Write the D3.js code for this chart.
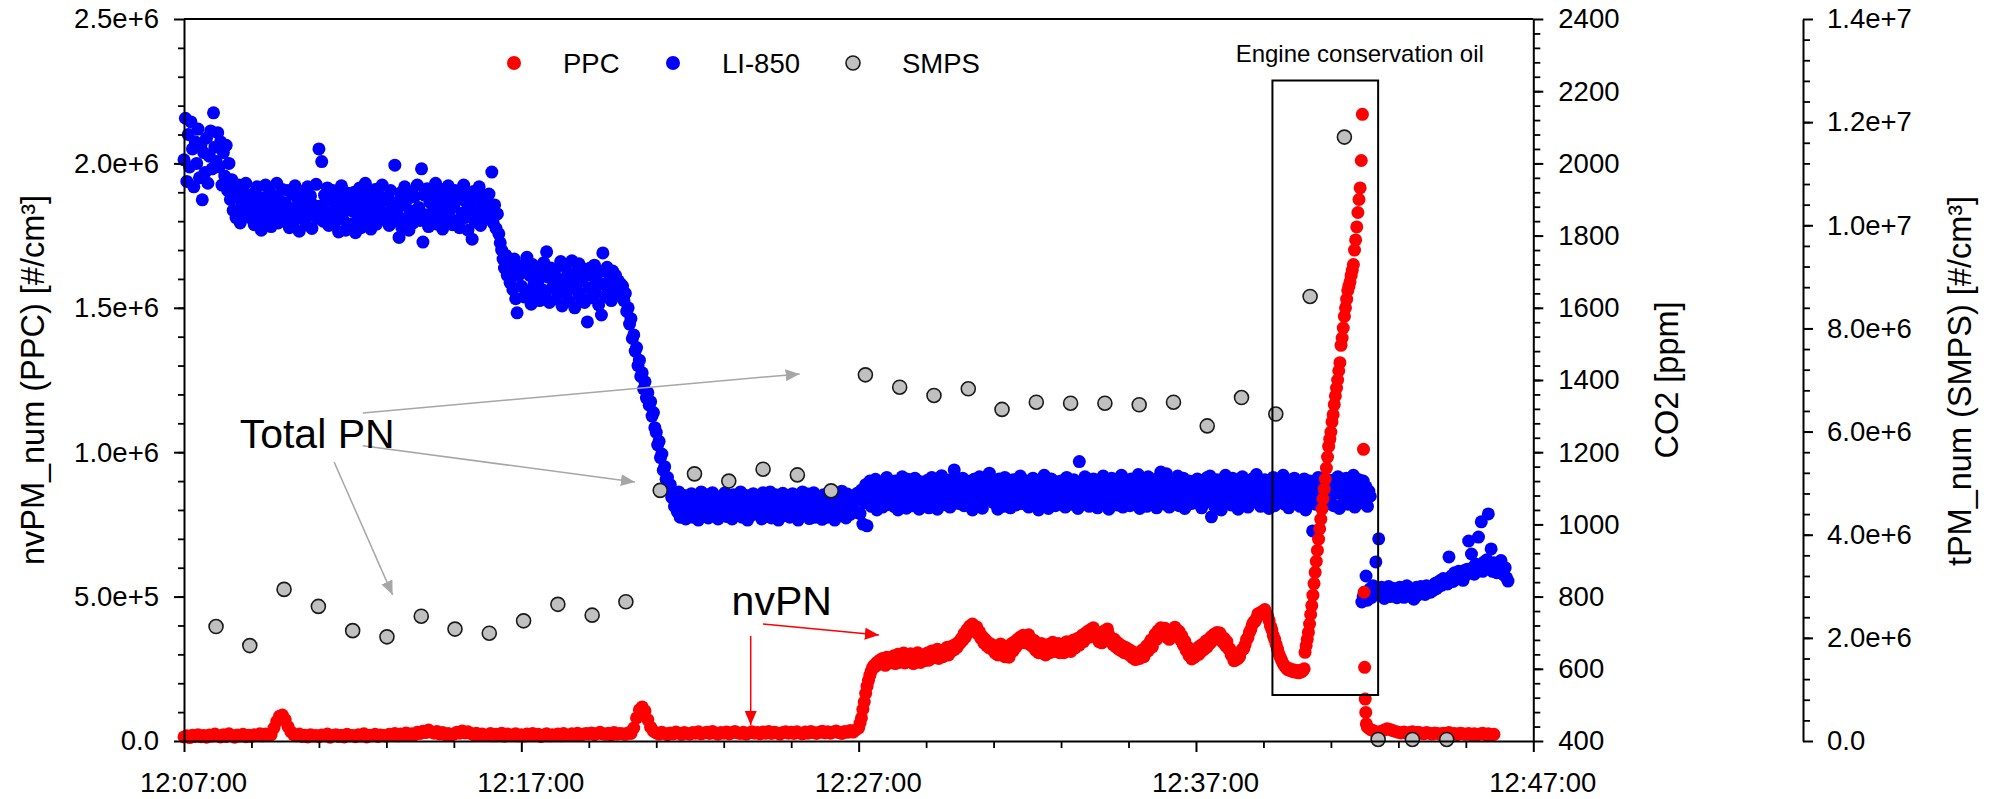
<!DOCTYPE html>
<html lang="en">
<head>
<meta charset="UTF-8">
<title>nvPM / CO2 / SMPS time series</title>
<script src="https://cdn.jsdelivr.net/npm/d3@7"></script>
<style>
  html, body { margin: 0; padding: 0; background: #fff; }
  svg { display: block; }
</style>
</head>
<body>
<script>
// ---------- data ----------

// PPC nvPM number, x1000 #/cm3
// idle baseline, one reading every 5 s from 12:07:00
const ppcBaseStart = "12:07:00";
const ppcBaseValues = [
  14,18,12,20,16,22,15,19,13,21,17,24,
  18,14,22,16,25,19,13,21,17,23,15,20,
  16,22,19,25,18,24,20,22,45,68,86,90,
  74,50,32,22,18,24,16,20,14,22,17,19,
  15,21,18,24,13,19,22,16,20,14,23,18,
  19,15,22,17,25,14,20,18,23,16,21,19,
  17,23,20,26,18,24,21,28,19,25,22,30,
  26,34,29,38,31,27,33,24,29,22,26,20,
  24,30,27,35,28,32,26,22,27,19,24,21,
  20,26,18,23,21,27,17,24,19,22,25,18,
  22,17,24,20,26,19,23,16,21,25,18,22,
  20,24,18,26,22,19,25,21,27,20,23,26,
  24,28,22,26,30,25,23,27,21,29,24,26,
  25,23,28,26,45,80,108,118,104,74,48,34,
  28,24,30,26,22,28,25,31,27,23,29,26,
  24,29,27,32,25,28,30,26,33,27,24,29,
  27,31,25,29,33,28,26,30,24,28,32,27,
  29,25,31,27,33,26,30,28,24,29,32,27,
  30,26,32,28,25,31,27,33,29,26,30,34,
  28,32,27,31,35,29,26,33,30,36,31,38
];
// running plateau, one reading every 2.5 s from 12:27:00
const ppcRunStart = "12:27:00";
const ppcRunValues = [
  45,62,80,110,135,165,190,210,228,242,255,262,258,272,265,280,268,286,274,262,290,278,270,288,
  276,295,268,288,300,272,292,282,305,270,298,285,275,302,288,268,296,280,306,284,272,298,290,278,
  292,305,280,298,312,288,302,296,318,286,308,300,292,315,304,325,298,318,310,330,316,335,324,342,
  338,355,348,372,360,385,375,398,388,405,392,382,395,370,378,355,362,340,352,330,342,322,336,318,
  330,305,328,298,322,336,304,320,292,328,310,290,326,338,312,344,326,352,338,360,346,366,340,362,
  348,368,334,352,326,348,314,334,306,330,338,304,326,298,322,334,306,330,342,310,332,316,338,306,
  322,334,306,332,344,316,340,310,334,350,322,346,356,332,352,366,344,372,356,380,360,386,368,392,
  372,358,376,344,362,340,366,382,362,388,368,356,348,334,352,326,342,318,334,312,328,306,324,304,
  318,296,312,288,302,282,298,306,286,310,316,292,320,330,312,340,350,326,356,370,352,382,366,392,
  386,372,390,360,378,352,370,384,366,394,378,362,380,350,364,332,346,314,326,296,300,284,306,290,
  312,322,300,330,310,336,318,346,326,352,338,362,348,370,356,376,358,374,350,342,356,330,344,320,
  320,298,294,278,280,284,286,292,310,318,320,334,352,358,376,386,402,412,414,424,440,442,442,448,
  448,455,440,432,418,398,385,365,352,335,318,302,290,278,268,260,255,248,252,244,248,240,246,238,
  242,236,245,239,244,250
];
// oil burst, one reading every 2 s from 12:40:14
const ppcBurstStart = "12:40:14";
const ppcBurstValues = [
  307,330,352,376,405,438,469,505,545,584,622,660,699,735,768,803,838,872,
  907,945,983,1020,1045,1070,1105,1130,1165,1195,1222,1250,1282,1310,1370,
  1395,1430,1470,1500,1530,1560,1575,1590,1612,1630,1650,1700,1735,1780,
  1830,1875,1915,2010,2170
];
const ppcDropTimes = ["12:41:58","12:41:59","12:42:00","12:42:01","12:42:02","12:42:03"];
const ppcDropValues = [1010, 515, 255, 145, 99, 59];
// back to idle, one reading every 5 s from 12:42:05
const ppcTailStart = "12:42:05";
const ppcTailValues = [
  48,40,36,32,30,34,38,42,40,36,33,
  30,28,31,27,29,32,26,30,28,25,29,27,
  24,28,26,23,27,25,29,24,26,22,27,25,
  23,26,22,25,21,24,27,22,25,20,23
];

// LI-850 CO2, ppm, one reading every 2.5 s from 12:07:00
const co2Start = "12:07:00";
const co2Values = [
  2010,2125,1950,2080,1990,2115,2040,1935,2060,2000,2095,1960,2050,1899,2030,1975,2070,1945,2020,2090,1985,2140,2045,2005,
  2085,1990,2060,1940,2030,1965,2050,1925,2000,1900,1955,1870,1925,1850,1905,1940,1835,1880,1920,1860,1945,1875,1900,1850,
  1865,1915,1830,1890,1935,1848,1880,1815,1905,1860,1940,1838,1885,1920,1825,1872,1908,1850,1945,1835,1898,1868,1928,1842,
  1890,1852,1925,1822,1875,1915,1840,1938,1862,1900,1812,1880,1922,1845,1895,1830,1935,1868,1910,1820,1885,1855,1942,1848,
  2040,1882,2005,1840,1912,1866,1932,1828,1898,1852,1925,1835,1878,1908,1810,1862,1938,1845,1890,1815,1918,1872,1902,1832,
  1868,1920,1808,1888,1850,1932,1822,1905,1862,1945,1838,1878,1915,1818,1895,1855,1928,1832,1875,1910,1845,1940,1865,1898,
  1850,1905,1828,1925,1872,1840,1995,1892,1858,1795,1918,1822,1885,1935,1845,1900,1815,1868,1922,1835,1908,1855,1940,1878,
  1842,1985,1782,1912,1858,1930,1825,1892,1922,1848,1875,1945,1832,1902,1862,1928,1818,1885,1915,1845,1938,1868,1898,1830,
  1880,1925,1842,1900,1822,1918,1862,1940,1850,1892,1815,1908,1870,1790,1922,1838,1898,1858,1935,1828,1882,1912,1848,1888,
  1862,1915,1845,1976,1835,1885,1820,1860,1805,1780,1760,1735,1710,1745,1690,1725,1670,1705,1650,1735,1625,1586,1690,1715,
  1660,1700,1630,1715,1740,1645,1690,1610,1720,1665,1635,1705,1675,1620,1698,1650,1725,1640,1755,1685,1615,1710,1655,1695,
  1705,1625,1680,1650,1728,1605,1670,1715,1640,1695,1618,1685,1730,1660,1600,1700,1645,1722,1630,1675,1708,1615,1690,1561,
  1655,1710,1628,1688,1718,1640,1672,1608,1700,1580,1752,1665,1630,1712,1648,1685,1620,1702,1660,1690,1635,1675,1645,1665,
  1660,1620,1640,1590,1600,1555,1570,1515,1525,1480,1490,1440,1455,1410,1420,1375,1395,1350,1365,1330,1340,1300,1310,1268,
  1255,1220,1230,1185,1195,1150,1160,1125,1130,1100,1110,1075,1085,1050,1070,1035,1090,1020,1060,1045,1080,1015,1065,1030,
  1050,1085,1020,1068,1035,1078,1012,1058,1090,1030,1072,1042,1082,1018,1062,1048,1088,1025,1055,1075,1015,1065,1038,1080,
  1045,1088,1022,1070,1032,1060,1015,1082,1050,1028,1076,1040,1090,1020,1066,1035,1080,1012,1058,1072,1026,1085,1044,1062,
  1078,1030,1065,1015,1088,1048,1022,1072,1040,1090,1018,1060,1034,1082,1052,1012,1070,1038,1086,1025,1064,1046,1080,1020,
  1058,1085,1024,1068,1040,1012,1078,1050,1090,1028,1062,1036,1084,1016,1072,1044,1088,1020,1056,1074,1032,1066,1014,1082,
  1040,1076,1020,1064,1088,1030,1058,1012,1080,1046,1070,1024,1092,1038,1062,1018,1084,1050,1028,1074,1042,1066,1034,1086,
  1070,1030,1095,1001,1060,1110,996,1085,1120,1050,1100,1065,1125,1040,1090,1075,1115,1048,1105,1060,1130,1080,1055,1118,
  1095,1050,1120,1070,1040,1108,1085,1132,1058,1100,1045,1125,1078,1112,1052,1090,1128,1065,1104,1042,1118,1082,1060,1110,
  1072,1122,1046,1098,1130,1060,1110,1085,1042,1118,1068,1135,1090,1055,1115,1078,1100,1048,1125,1065,1151,1088,1105,1058,
  1115,1070,1128,1052,1095,1120,1062,1108,1080,1040,1125,1075,1100,1058,1132,1088,1045,1112,1068,1098,1122,1142,1082,1106,
  1060,1118,1084,1042,1126,1070,1102,1050,1130,1090,1064,1114,1046,1096,1124,1074,1054,1108,1086,1134,1058,1100,1078,1120,
  1092,1048,1116,1072,1128,1056,1104,1082,1040,1122,1066,1098,1136,1060,1110,1044,1088,1126,1070,1102,1052,1118,1080,1094,
  1120,1064,1100,1048,1130,1076,1112,1056,1092,1124,1068,1106,1044,1174,1086,1118,1058,1132,1074,1098,1050,1114,1082,1126,
  1066,1108,1046,1122,1084,1058,1134,1096,1070,1116,1042,1102,1128,1062,1090,1120,1054,1110,1078,1136,1048,1094,1118,1072,
  1104,1052,1126,1080,1060,1114,1090,1138,1044,1098,1122,1068,1108,1050,1132,1086,1064,1118,1076,1100,1046,1128,1092,1145,
  1070,1112,1056,1140,1096,1048,1124,1082,1062,1118,1090,1134,1052,1106,1078,1128,1044,1100,1066,1120,1086,1058,1114,1094,
  1082,1126,1058,1104,1046,1118,1090,1064,1130,1074,1134,1021,1110,1052,1096,1124,1068,1102,1040,1116,1084,1136,1060,1098,
  1112,1054,1128,1088,1066,1120,1042,1100,1076,1132,1058,1094,1118,1048,1108,1084,1126,1062,1092,1138,1070,1104,1050,1116,
  1086,1124,1060,1098,1044,1114,1078,1130,1052,1106,1090,1120,1064,1096,1136,1056,1110,1082,1046,1122,1074,1102,1128,1068,
  1094,1118,1050,1106,1072,1126,1040,1098,1084,1120,1062,982,1112,1056,1090,1130,1068,1104,1046,1116,1080,1124,1058,1100,
  1076,1122,1052,1108,1088,1132,1044,1096,1118,1064,1102,1128,1056,1090,1114,1070,1136,1048,1110,1082,1124,1060,1098,1120,
  1066,1104,1050,1092,1078
];
// after the switch, one reading every 2.5 s from 12:41:55
const co2TailStart = "12:41:55";
const co2TailValues = [
  785,800,
  812,857,790,805,822,798,830,810,896,818,960,804,826,812,795,820,808,828,800,815,823,806,818,797,
  812,826,804,820,798,815,830,808,822,801,816,793,812,826,805,819,828,810,822,806,830,815,824,812,
  826,818,836,822,840,828,845,832,850,838,846,835,910,852,858,842,866,848,855,870,850,862,845,872,
  860,876,954,866,918,880,862,890,872,965,884,1007,870,896,878,902,1029,888,932,870,894,880,866,884,
  868,900,872,860,880,852,843
];

// SMPS total particle number, x1e6 #/cm3
const smpsTimes = [
  "12:07:57","12:08:57","12:09:58","12:10:59","12:12:00","12:13:01","12:14:02",
  "12:15:02","12:16:03","12:17:04","12:18:05","12:19:06","12:20:06","12:21:07",
  "12:22:08","12:23:09","12:24:10","12:25:11","12:26:11","12:27:12","12:28:13",
  "12:29:14","12:30:15","12:31:15","12:32:16","12:33:17","12:34:18","12:35:19",
  "12:36:20","12:37:20","12:38:21","12:39:22","12:40:23","12:41:24","12:42:24",
  "12:43:25","12:44:26"
];
const smpsValues = [
  2.22,1.85,2.94,2.61,2.14,2.02,2.42,2.17,2.09,2.33,2.65,2.44,2.70,4.86,
  5.18,5.04,5.27,5.16,4.85,7.10,6.86,6.70,6.83,6.43,6.57,6.55,6.55,6.52,
  6.57,6.11,6.66,6.34,8.62,11.71,0.03,0.03,0.03
];

// axis ticks
const timeTicks = ["12:07:00","12:17:00","12:27:00","12:37:00","12:47:00"];
const ppcTicks = [0, 5e5, 1e6, 1.5e6, 2e6, 2.5e6];
const co2Ticks = [400, 600, 800, 1000, 1200, 1400, 1600, 1800, 2000, 2200, 2400];
const smpsTicks = [0, 2e6, 4e6, 6e6, 8e6, 1e7, 1.2e7, 1.4e7];

// annotations: [from time, from PPC value, to time, to PPC value]
const grayArrows = [
  ["12:12:18", 1.136e6, "12:25:15", 1.271e6],
  ["12:12:18", 1.022e6, "12:20:22", 0.897e6],
  ["12:11:27", 0.966e6, "12:13:11", 0.506e6]
];
const redArrows = [
  ["12:23:48", 3.64e5, "12:23:48", 0.55e5],
  ["12:24:10", 4.05e5, "12:27:36", 3.67e5]
];
const oilBox = ["12:39:16", 2.287e6, "12:42:24", 1.593e5];

// ---------- setup ----------
const W = 1995, H = 799;
const plotL = 184, plotR = 1533.3, plotT = 19, plotB = 741;
const thirdAxisX = 1803;
const FONT = "'Liberation Sans', Arial, Helvetica, sans-serif";

const parseT = d3.timeParse("%H:%M:%S");
function regular(start, step, values, k) {
  const t0 = parseT(start).getTime();
  return values.map((v, i) => ({ t: new Date(t0 + i * step * 1000), v: v * k }));
}
function listed(times, values, k) {
  return times.map((s, i) => ({ t: parseT(s), v: values[i] * k }));
}

const ppcData = regular(ppcBaseStart, 5, ppcBaseValues, 1e3)
  .concat(regular(ppcRunStart, 2.5, ppcRunValues, 1e3))
  .concat(regular(ppcBurstStart, 2, ppcBurstValues, 1e3))
  .concat(listed(ppcDropTimes, ppcDropValues, 1e3))
  .concat(regular(ppcTailStart, 5, ppcTailValues, 1e3));
const co2Data = regular(co2Start, 2.5, co2Values, 1)
  .concat(regular(co2TailStart, 2.5, co2TailValues, 1));
const smpsData = listed(smpsTimes, smpsValues, 1e6);

const x = d3.scaleTime().domain([parseT("12:07:00"), parseT("12:47:00")]).range([plotL, plotR]);
const yPPC = d3.scaleLinear().domain([0, 2.5e6]).range([plotB, plotT]);
const yCO2 = d3.scaleLinear().domain([400, 2400]).range([plotB, plotT]);
const ySMPS = d3.scaleLinear().domain([0, 1.4e7]).range([plotB, plotT]);

const fmtE = v => v === 0 ? "0.0" : d3.format(".1e")(v);

const svg = d3.select("body").append("svg")
  .attr("width", W).attr("height", H)
  .attr("font-family", FONT);
svg.append("rect").attr("width", W).attr("height", H).attr("fill", "#fff");

const defs = svg.append("defs");
[["headGray", "#a6a6a6"], ["headRed", "#ff0000"]].forEach(([id, c]) => {
  defs.append("marker")
    .attr("id", id)
    .attr("viewBox", "0 0 10 10")
    .attr("refX", 10).attr("refY", 5)
    .attr("markerWidth", 14).attr("markerHeight", 12)
    .attr("markerUnits", "userSpaceOnUse")
    .attr("preserveAspectRatio", "none")
    .attr("orient", "auto")
    .append("path").attr("d", "M0,0L10,5L0,10Z").attr("fill", c);
});

// ---------- data marks ----------
svg.append("g").selectAll("circle").data(co2Data).join("circle")
  .attr("cx", d => x(d.t)).attr("cy", d => yCO2(d.v))
  .attr("r", 6.5).attr("fill", "#0000ff");

svg.append("g").selectAll("circle").data(ppcData).join("circle")
  .attr("cx", d => x(d.t)).attr("cy", d => yPPC(d.v))
  .attr("r", 6.5).attr("fill", "#ff0000");

svg.append("g").selectAll("circle").data(smpsData).join("circle")
  .attr("cx", d => x(d.t)).attr("cy", d => ySMPS(d.v))
  .attr("r", 7).attr("fill", "#c0c0c0")
  .attr("stroke", "#1a1a1a").attr("stroke-width", 1.6);

// ---------- axes ----------
function styleAxis(g, size) {
  g.attr("font-family", FONT).attr("font-size", size);
  g.selectAll("path.domain").attr("stroke", "#000").attr("stroke-width", 2);
  g.selectAll(".tick line").attr("stroke", "#000").attr("stroke-width", 2);
  g.selectAll(".tick text").attr("fill", "#000");
}
function minor(g) {
  g.select("path.domain").remove();
  g.selectAll(".tick text").remove();
  g.selectAll(".tick line").attr("stroke", "#000").attr("stroke-width", 1.8);
}

const minorTimes = d3.range(0, 41, 2).filter(m => m % 10 !== 0)
  .map(m => d3.timeMinute.offset(parseT("12:07:00"), m));

// bottom
svg.append("g").attr("transform", `translate(0,${plotB})`)
  .call(d3.axisBottom(x).tickValues(minorTimes).tickSize(7).tickFormat(""))
  .call(minor);
svg.append("g").attr("transform", `translate(0,${plotB})`)
  .call(d3.axisBottom(x).tickValues(timeTicks.map(parseT))
    .tickFormat(d3.timeFormat("%H:%M:%S")).tickSize(11).tickSizeOuter(0).tickPadding(20))
  .call(g => styleAxis(g, 27.5))
  .call(g => g.selectAll(".tick text").attr("x", 9));

// left (PPC)
svg.append("g").attr("transform", `translate(${plotL},0)`)
  .call(d3.axisLeft(yPPC).tickValues(d3.range(1e5, 2.5e6, 1e5)).tickSize(6).tickFormat(""))
  .call(minor);
svg.append("g").attr("transform", `translate(${plotL},0)`)
  .call(d3.axisLeft(yPPC).tickValues(ppcTicks).tickFormat(fmtE)
    .tickSize(10).tickSizeOuter(0).tickPadding(15))
  .call(g => styleAxis(g, 27.5));

// right (CO2)
svg.append("g").attr("transform", `translate(${plotR},0)`)
  .call(d3.axisRight(yCO2).tickValues(d3.range(440, 2400, 40)).tickSize(7).tickFormat(""))
  .call(minor);
svg.append("g").attr("transform", `translate(${plotR},0)`)
  .call(d3.axisRight(yCO2).tickValues(co2Ticks).tickFormat(d3.format("d"))
    .tickSize(10).tickSizeOuter(0).tickPadding(15))
  .call(g => styleAxis(g, 27.5));

// offset right (SMPS)
svg.append("g").attr("transform", `translate(${thirdAxisX},0)`)
  .call(d3.axisRight(ySMPS).tickValues(d3.range(4e5, 1.4e7, 4e5)).tickSize(7).tickFormat(""))
  .call(minor);
svg.append("g").attr("transform", `translate(${thirdAxisX},0)`)
  .call(d3.axisRight(ySMPS).tickValues(smpsTicks).tickFormat(fmtE)
    .tickSize(10).tickSizeOuter(0).tickPadding(14))
  .call(g => styleAxis(g, 27.5));

// top frame line
svg.append("line")
  .attr("x1", plotL).attr("x2", plotR).attr("y1", plotT).attr("y2", plotT)
  .attr("stroke", "#000").attr("stroke-width", 2);

// axis titles
const titles = [
  [44, 380, "nvPM_num (PPC) [#/cm³]"],
  [1678, 380, "CO2 [ppm]"],
  [1971, 381, "tPM_num (SMPS) [#/cm³]"]
];
svg.append("g").selectAll("text").data(titles).join("text")
  .attr("transform", d => `translate(${d[0]},${d[1]}) rotate(-90)`)
  .attr("text-anchor", "middle")
  .attr("font-size", 32.5)
  .text(d => d[2]);

// ---------- annotations ----------
svg.append("g").selectAll("line").data(grayArrows).join("line")
  .attr("x1", d => x(parseT(d[0]))).attr("y1", d => yPPC(d[1]))
  .attr("x2", d => x(parseT(d[2]))).attr("y2", d => yPPC(d[3]))
  .attr("stroke", "#a6a6a6").attr("stroke-width", 1.5)
  .attr("marker-end", "url(#headGray)");

svg.append("g").selectAll("line").data(redArrows).join("line")
  .attr("x1", d => x(parseT(d[0]))).attr("y1", d => yPPC(d[1]))
  .attr("x2", d => x(parseT(d[2]))).attr("y2", d => yPPC(d[3]))
  .attr("stroke", "#ff0000").attr("stroke-width", 1.5)
  .attr("marker-end", "url(#headRed)");

svg.append("text")
  .attr("x", x(parseT("12:08:39"))).attr("y", yPPC(1.0145e6))
  .attr("font-size", 41).text("Total PN");
svg.append("text")
  .attr("x", x(parseT("12:23:14"))).attr("y", yPPC(4.363e5))
  .attr("font-size", 41).text("nvPN");

svg.append("rect")
  .attr("x", x(parseT(oilBox[0]))).attr("y", yPPC(oilBox[1]))
  .attr("width", x(parseT(oilBox[2])) - x(parseT(oilBox[0])))
  .attr("height", yPPC(oilBox[3]) - yPPC(oilBox[1]))
  .attr("fill", "none").attr("stroke", "#000").attr("stroke-width", 2);
svg.append("text")
  .attr("x", x(parseT("12:45:32"))).attr("y", yPPC(2.351e6))
  .attr("text-anchor", "end").attr("font-size", 24)
  .text("Engine conservation oil");

// ---------- legend ----------
const legendItems = [
  { name: "PPC", cx: 514, fill: "#ff0000", stroke: "none" },
  { name: "LI-850", cx: 673, fill: "#0000ff", stroke: "none" },
  { name: "SMPS", cx: 853, fill: "#c0c0c0", stroke: "#1a1a1a" }
];
const lg = svg.append("g").selectAll("g").data(legendItems).join("g");
lg.append("circle")
  .attr("cx", d => d.cx).attr("cy", 63).attr("r", 7)
  .attr("fill", d => d.fill).attr("stroke", d => d.stroke).attr("stroke-width", 1.6);
lg.append("text")
  .attr("x", d => d.cx + 49).attr("y", 73)
  .attr("font-size", 27.5).text(d => d.name);
</script>
</body>
</html>
